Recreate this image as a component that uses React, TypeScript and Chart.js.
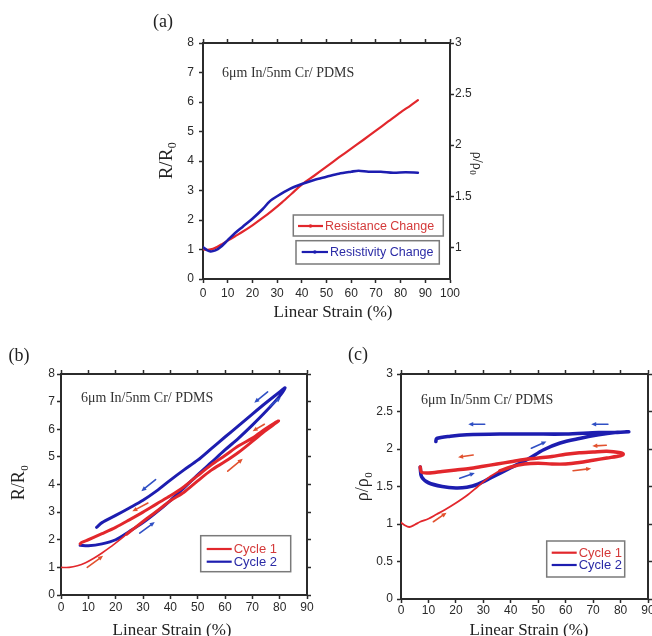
import React, { useEffect, useRef } from "react";
import { Chart, registerables } from "chart.js";

Chart.register(...registerables);

const SERIF = "'Liberation Serif', 'Times New Roman', Times, serif";
const SANS = "'Liberation Sans', Arial, Helvetica, sans-serif";
const AXIS = "#2b2b2b";
const RED = "#e2272c";
const BLUE = "#1d1db0";
const RED_TXT = "#d43a3a";
const BLUE_TXT = "#2b2ba6";
const RED_ARROW = "#e2522f";
const BLUE_ARROW = "#3050c4";

// ---------- Panel (a) ----------
const aSeries = ["Resistance Change", "Resistivity Change"];
const aStrainR = [0, 2, 4, 6, 8, 10, 13, 16, 20, 24, 28, 32, 36, 40, 45, 50, 55, 60, 65, 70, 75, 80, 84, 87];
const aResistance = [1.0, 0.99, 1.02, 1.1, 1.2, 1.3, 1.45, 1.6, 1.82, 2.06, 2.32, 2.6, 2.9, 3.2, 3.5, 3.81, 4.12, 4.42, 4.72, 5.03, 5.34, 5.65, 5.88, 6.06];
const aStrainB = [0, 1.5, 3, 5, 7, 10, 13, 16, 20, 24, 27, 30, 35, 40, 45, 50, 55, 60, 63, 67, 72, 77, 82, 87];
const aResistivity = [1.0, 0.975, 0.96, 0.97, 1.0, 1.07, 1.14, 1.2, 1.28, 1.37, 1.45, 1.5, 1.57, 1.62, 1.66, 1.69, 1.72, 1.74, 1.75, 1.74, 1.74, 1.73, 1.735, 1.73];
const aXTicks = [0, 10, 20, 30, 40, 50, 60, 70, 80, 90, 100];
const aYTicks = [0, 1, 2, 3, 4, 5, 6, 7, 8];
const aY2Ticks = [1, 1.5, 2, 2.5, 3];

// ---------- Panel (b) ----------
const cycles = ["Cycle 1", "Cycle 2"];
const bC1InitX = [0, 3, 6, 9, 12, 15, 18, 21, 24];
const bC1InitY = [1.0, 1.0, 1.06, 1.17, 1.33, 1.52, 1.73, 1.96, 2.2];
const bC1X = [24, 30, 35, 40, 45, 50, 55, 60, 65, 70, 75, 79.6, 78, 75, 70, 65, 60, 55, 50, 45, 40, 35, 30, 25, 20, 15, 10, 7.5, 7];
const bC1Y = [2.2, 2.66, 3.03, 3.41, 3.72, 4.13, 4.52, 4.83, 5.17, 5.56, 5.96, 6.3, 6.22, 6.03, 5.68, 5.4, 5.05, 4.71, 4.32, 3.92, 3.59, 3.3, 3.0, 2.72, 2.45, 2.22, 2.0, 1.9, 1.85];
const bC2X = [7, 10, 15, 20, 25, 30, 35, 40, 45, 50, 55, 60, 65, 70, 75, 80, 82, 80, 75, 70, 65, 60, 55, 50, 45, 40, 35, 30, 25, 20, 15, 13];
const bC2Y = [1.8, 1.78, 1.85, 2.0, 2.3, 2.62, 3.0, 3.42, 3.88, 4.35, 4.8, 5.25, 5.68, 6.15, 6.65, 7.2, 7.5, 7.35, 6.96, 6.55, 6.13, 5.72, 5.3, 4.88, 4.53, 4.16, 3.77, 3.43, 3.15, 2.88, 2.62, 2.45];
const bArrowsRed = [[9.6, 1.0, 15.4, 1.42], [31.8, 3.33, 26.1, 3.03], [61, 4.48, 66.5, 4.93], [74.4, 6.18, 70.1, 5.93]];
const bArrowsBlue = [[34.6, 4.18, 29.4, 3.76], [28.8, 2.24, 34.3, 2.64], [75.6, 7.35, 70.7, 6.96], [76.5, 6.84, 80.4, 7.15]];
const bXTicks = [0, 10, 20, 30, 40, 50, 60, 70, 80, 90];
const bYTicks = [0, 1, 2, 3, 4, 5, 6, 7, 8];

// ---------- Panel (c) ----------
const cC1InitX = [0, 1.5, 3, 5, 7, 10, 13, 16, 20, 24, 28, 32, 36];
const cC1InitY = [1.02, 0.98, 0.96, 0.99, 1.03, 1.07, 1.13, 1.19, 1.28, 1.38, 1.5, 1.62, 1.71];
const cC1X = [36, 40, 45, 50, 55, 60, 65, 70, 75, 80, 81, 80, 75, 70, 65, 60, 55, 50, 45, 40, 35, 30, 25, 20, 15, 10, 7.5, 7];
const cC1Y = [1.71, 1.76, 1.8, 1.81, 1.8, 1.8, 1.82, 1.85, 1.88, 1.91, 1.93, 1.95, 1.97, 1.96, 1.95, 1.93, 1.9, 1.88, 1.86, 1.83, 1.8, 1.77, 1.74, 1.72, 1.7, 1.68, 1.69, 1.76];
const cC2X = [7, 7.5, 10, 15, 20, 24, 28, 33, 40, 46, 52, 58, 65, 72, 78, 83, 78, 72, 60, 48, 36, 24, 18, 13, 12.7];
const cC2Y = [1.76, 1.63, 1.55, 1.5, 1.48, 1.49, 1.53, 1.62, 1.75, 1.86, 1.99, 2.08, 2.14, 2.19, 2.22, 2.23, 2.22, 2.22, 2.2, 2.2, 2.2, 2.19, 2.17, 2.14, 2.1];
const cArrowsRed = [[74.8, 2.05, 69.7, 2.04], [26.3, 1.92, 20.8, 1.89], [62.7, 1.71, 69.3, 1.74], [11.8, 1.03, 16.6, 1.15]];
const cArrowsBlue = [[30.5, 2.33, 24.5, 2.33], [75.4, 2.33, 69.3, 2.33], [47.5, 2.01, 53, 2.1], [21.4, 1.61, 26.9, 1.68]];
const cXTicks = [0, 10, 20, 30, 40, 50, 60, 70, 80, 90];
const cYTicks = [0, 0.5, 1, 1.5, 2, 2.5, 3];

const sampleText = "6μm In/5nm Cr/ PDMS";
const xTitle = "Linear Strain (%)";

const pts = (xs: number[], ys: number[]) => xs.map((x, i) => ({ x, y: ys[i] }));

type Pos = "left" | "right" | "top" | "bottom";
function makeAxis(o: { pos: Pos; min: number; max: number; ticks: number[]; size: number; labels?: boolean; pad?: number }) {
  const horiz = o.pos === "top" || o.pos === "bottom";
  return {
    type: "linear",
    position: o.pos,
    min: o.min,
    max: o.max,
    afterBuildTicks: (s: any) => {
      s.ticks = o.ticks.map((v) => ({ value: v }));
    },
    afterFit: (s: any) => {
      if (horiz) s.height = o.size;
      else s.width = o.size;
      s.paddingLeft = 0;
      s.paddingRight = 0;
      s.paddingTop = 0;
      s.paddingBottom = 0;
    },
    grid: { display: true, drawOnChartArea: false, drawTicks: true, tickLength: 4, tickWidth: 1.5, tickColor: AXIS },
    border: { display: true, color: AXIS, width: 2 },
    ticks: {
      display: !!o.labels,
      padding: o.pad ?? 3,
      color: "#2a2a2a",
      font: { family: SANS, size: 12 },
      autoSkip: false,
      maxRotation: 0,
      callback: (v: any) => String(v),
    },
  };
}

type TextItem = { text: string; sub?: string; x: number; y: number; size: number; family?: string; color?: string; rot?: number; align?: "left" | "center" };
type LegendItem = { label: string; color: string; textColor: string; x1: number; x2: number; y: number; marker?: boolean };
type LegendBox = { x: number; y: number; w: number; h: number; size: number; items: LegendItem[] };
type ArrowGroup = { color: string; list: number[][] };

function drawText(ctx: CanvasRenderingContext2D, t: TextItem) {
  const fam = t.family || SERIF;
  ctx.save();
  ctx.translate(t.x, t.y);
  ctx.rotate(t.rot || 0);
  ctx.font = `${t.size}px ${fam}`;
  const w1 = ctx.measureText(t.text).width;
  const subSize = Math.round(t.size * 0.62);
  let w2 = 0;
  if (t.sub) {
    ctx.font = `${subSize}px ${fam}`;
    w2 = ctx.measureText(t.sub).width;
  }
  const total = w1 + w2;
  const x0 = t.align === "left" ? 0 : -total / 2;
  ctx.fillStyle = t.color || "#222";
  ctx.textBaseline = "middle";
  ctx.textAlign = "left";
  ctx.font = `${t.size}px ${fam}`;
  ctx.fillText(t.text, x0, 0);
  if (t.sub) {
    ctx.font = `${subSize}px ${fam}`;
    ctx.fillText(t.sub, x0 + w1 + 0.5, t.size * 0.32);
  }
  ctx.restore();
}

function drawArrow(ctx: CanvasRenderingContext2D, x1: number, y1: number, x2: number, y2: number, color: string) {
  const ang = Math.atan2(y2 - y1, x2 - x1);
  const h = 5.5;
  const hw = 0.42;
  ctx.save();
  ctx.strokeStyle = color;
  ctx.fillStyle = color;
  ctx.lineWidth = 1.6;
  ctx.lineCap = "round";
  ctx.beginPath();
  ctx.moveTo(x1, y1);
  ctx.lineTo(x2 - 3 * Math.cos(ang), y2 - 3 * Math.sin(ang));
  ctx.stroke();
  ctx.beginPath();
  ctx.moveTo(x2, y2);
  ctx.lineTo(x2 - h * Math.cos(ang - hw), y2 - h * Math.sin(ang - hw));
  ctx.lineTo(x2 - h * Math.cos(ang + hw), y2 - h * Math.sin(ang + hw));
  ctx.closePath();
  ctx.fill();
  ctx.restore();
}

function drawLegend(ctx: CanvasRenderingContext2D, L: LegendBox) {
  ctx.save();
  ctx.fillStyle = "#fff";
  ctx.fillRect(L.x, L.y, L.w, L.h);
  ctx.strokeStyle = "#7a7a7a";
  ctx.lineWidth = 1.5;
  ctx.strokeRect(L.x, L.y, L.w, L.h);
  L.items.forEach((it) => {
    ctx.strokeStyle = it.color;
    ctx.lineWidth = 2.2;
    ctx.beginPath();
    ctx.moveTo(it.x1, it.y);
    ctx.lineTo(it.x2, it.y);
    ctx.stroke();
    if (it.marker) {
      ctx.fillStyle = it.color;
      ctx.beginPath();
      ctx.arc((it.x1 + it.x2) / 2, it.y, 1.8, 0, Math.PI * 2);
      ctx.fill();
    }
    ctx.fillStyle = it.textColor;
    ctx.font = `${L.size}px ${SANS}`;
    ctx.textBaseline = "middle";
    ctx.textAlign = "left";
    ctx.fillText(it.label, it.x2 + 2, it.y + 0.5);
  });
  ctx.restore();
}

function makeDecor(spec: { texts: TextItem[]; legends: LegendBox[]; arrows: ArrowGroup[] }) {
  return {
    id: "decor",
    afterDatasetsDraw(chart: any) {
      const ctx = chart.ctx as CanvasRenderingContext2D;
      const xs = chart.scales.x;
      const ys = chart.scales.y;
      spec.arrows.forEach((g) =>
        g.list.forEach((a) =>
          drawArrow(ctx, xs.getPixelForValue(a[0]), ys.getPixelForValue(a[1]), xs.getPixelForValue(a[2]), ys.getPixelForValue(a[3]), g.color)
        )
      );
      spec.legends.forEach((L) => drawLegend(ctx, L));
      spec.texts.forEach((t) => drawText(ctx, t));
    },
  };
}

function baseOptions(scales: any) {
  return {
    responsive: false,
    animation: false,
    devicePixelRatio: 1,
    events: [],
    layout: { padding: 0 },
    plugins: { legend: { display: false }, tooltip: { enabled: false } },
    elements: { point: { radius: 0 }, line: { tension: 0.3, borderJoinStyle: "round", borderCapStyle: "round" } },
    scales,
  };
}

function line(label: string, data: any[], color: string, width: number, extra: any = {}) {
  return { label, data, borderColor: color, backgroundColor: color, borderWidth: width, showLine: true, pointRadius: 0, fill: false, ...extra };
}

// Chart A: canvas at (140,0), 350x325; plot area (63,43)-(310,279)
function buildA(): any {
  return {
    type: "scatter",
    data: {
      datasets: [
        line(aSeries[1], pts(aStrainB, aResistivity), BLUE, 2.6, { yAxisID: "y2" }),
        line(aSeries[0], pts(aStrainR, aResistance), RED, 2.2, { yAxisID: "y" }),
      ],
    },
    options: baseOptions({
      x: makeAxis({ pos: "bottom", min: 0, max: 100, ticks: aXTicks, size: 46, labels: true, pad: 3 }),
      x2: makeAxis({ pos: "top", min: 0, max: 100, ticks: aXTicks, size: 43 }),
      y: makeAxis({ pos: "left", min: 0, max: 8, ticks: aYTicks, size: 63, labels: true, pad: 5 }),
      y2: makeAxis({ pos: "right", min: 0.69, max: 3, ticks: aY2Ticks, size: 40, labels: true, pad: 1 }),
    }),
    plugins: [
      makeDecor({
        texts: [
          { text: "(a)", x: 23, y: 22, size: 18 },
          { text: sampleText, x: 82, y: 73, size: 14, align: "left", color: "#333" },
          { text: "R/R", sub: "0", x: 27, y: 161, size: 19, rot: -Math.PI / 2 },
          { text: "ρ/ρ", sub: "0", x: 337, y: 163, size: 14, rot: Math.PI / 2 },
          { text: xTitle, x: 193, y: 313, size: 17 },
        ],
        legends: [
          { x: 153.3, y: 215, w: 150, h: 21, size: 12.5, items: [{ label: aSeries[0], color: RED, textColor: RED_TXT, x1: 158, x2: 183, y: 226, marker: true }] },
          { x: 156, y: 240.7, w: 143.3, h: 23.3, size: 12.5, items: [{ label: aSeries[1], color: BLUE, textColor: BLUE_TXT, x1: 161.7, x2: 188, y: 252, marker: true }] },
        ],
        arrows: [],
      }),
    ],
  };
}

// Chart B: canvas at (0,330), 320x306; plot area (61,44)-(307,265)
function buildB(): any {
  return {
    type: "scatter",
    data: {
      datasets: [
        line(cycles[0], pts(bC1InitX, bC1InitY), RED, 1.6),
        line(cycles[0], pts(bC1X, bC1Y), RED, 3),
        line(cycles[1], pts(bC2X, bC2Y), BLUE, 3),
      ],
    },
    options: baseOptions({
      x: makeAxis({ pos: "bottom", min: 0, max: 90, ticks: bXTicks, size: 41, labels: true, pad: 1 }),
      x2: makeAxis({ pos: "top", min: 0, max: 90, ticks: bXTicks, size: 44 }),
      y: makeAxis({ pos: "left", min: 0, max: 8, ticks: bYTicks, size: 61, labels: true, pad: 2 }),
      y2: makeAxis({ pos: "right", min: 0, max: 8, ticks: bYTicks, size: 13 }),
    }),
    plugins: [
      makeDecor({
        texts: [
          { text: "(b)", x: 19, y: 26, size: 18 },
          { text: sampleText, x: 81, y: 68, size: 14, align: "left", color: "#333" },
          { text: "R/R", sub: "0", x: 19, y: 153, size: 18, rot: -Math.PI / 2 },
          { text: xTitle, x: 172, y: 301, size: 17 },
        ],
        legends: [
          {
            x: 200.7, y: 205.7, w: 90, h: 36, size: 13,
            items: [
              { label: cycles[0], color: RED, textColor: RED_TXT, x1: 206.7, x2: 231.7, y: 219 },
              { label: cycles[1], color: BLUE, textColor: BLUE_TXT, x1: 206.7, x2: 231.7, y: 231.7 },
            ],
          },
        ],
        arrows: [
          { color: RED_ARROW, list: bArrowsRed },
          { color: BLUE_ARROW, list: bArrowsBlue },
        ],
      }),
    ],
  };
}

// Chart C: canvas at (330,330), 322x306; plot area (71,44)-(318,269)
function buildC(): any {
  return {
    type: "scatter",
    data: {
      datasets: [
        line(cycles[0], pts(cC1InitX, cC1InitY), RED, 1.8),
        line(cycles[0], pts(cC1X, cC1Y), RED, 3.4),
        line(cycles[1], pts(cC2X, cC2Y), BLUE, 3.6),
      ],
    },
    options: baseOptions({
      x: makeAxis({ pos: "bottom", min: 0, max: 90, ticks: cXTicks, size: 37, labels: true, pad: 0 }),
      x2: makeAxis({ pos: "top", min: 0, max: 90, ticks: cXTicks, size: 44 }),
      y: makeAxis({ pos: "left", min: 0, max: 3, ticks: cYTicks, size: 71, labels: true, pad: 4 }),
      y2: makeAxis({ pos: "right", min: 0, max: 3, ticks: cYTicks, size: 4 }),
    }),
    plugins: [
      makeDecor({
        texts: [
          { text: "(c)", x: 28, y: 25, size: 18 },
          { text: sampleText, x: 91, y: 70, size: 14, align: "left", color: "#333" },
          { text: "ρ/ρ", sub: "0", x: 33, y: 157, size: 18, rot: -Math.PI / 2 },
          { text: xTitle, x: 199, y: 301, size: 17 },
        ],
        legends: [
          {
            x: 216.7, y: 211, w: 78, h: 36, size: 13,
            items: [
              { label: cycles[0], color: RED, textColor: RED_TXT, x1: 221.7, x2: 246.7, y: 222.7 },
              { label: cycles[1], color: BLUE, textColor: BLUE_TXT, x1: 221.7, x2: 246.7, y: 235 },
            ],
          },
        ],
        arrows: [
          { color: RED_ARROW, list: cArrowsRed },
          { color: BLUE_ARROW, list: cArrowsBlue },
        ],
      }),
    ],
  };
}

function PanelChart(props: { left: number; top: number; width: number; height: number; build: () => any }) {
  const ref = useRef<HTMLCanvasElement | null>(null);
  useEffect(() => {
    if (!ref.current) return;
    const chart = new Chart(ref.current, props.build());
    return () => chart.destroy();
  }, []);
  return (
    <canvas
      ref={ref}
      width={props.width}
      height={props.height}
      style={{ position: "absolute", left: props.left, top: props.top, width: props.width, height: props.height, display: "block" }}
    />
  );
}

export default function App() {
  return (
    <div style={{ position: "fixed", left: 0, top: 0, width: 652, height: 636, overflow: "hidden", background: "#fff" }}>
      <PanelChart left={140} top={0} width={350} height={325} build={buildA} />
      <PanelChart left={0} top={330} width={320} height={306} build={buildB} />
      <PanelChart left={330} top={330} width={322} height={306} build={buildC} />
    </div>
  );
}
